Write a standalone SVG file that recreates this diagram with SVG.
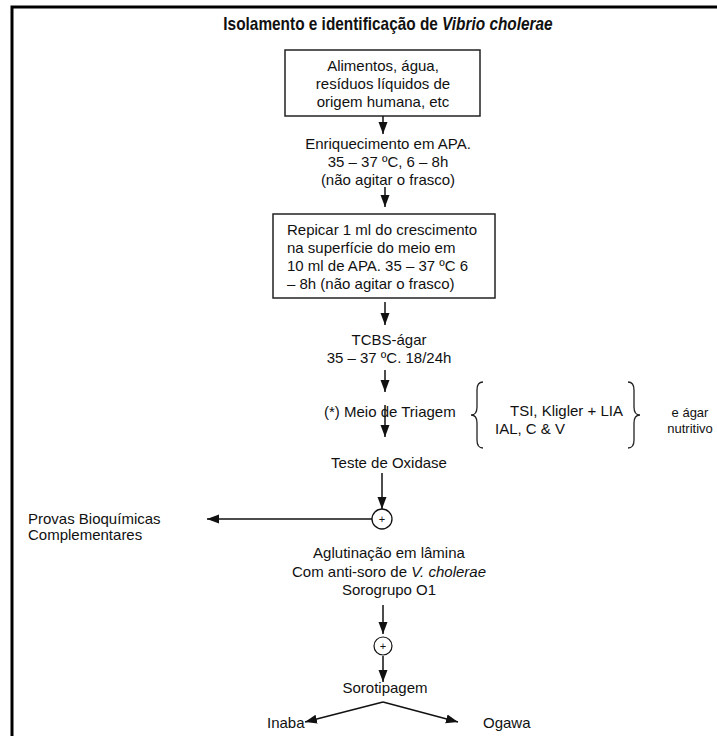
<svg xmlns="http://www.w3.org/2000/svg" width="717" height="736" viewBox="0 0 717 736">
<style>
text{font-family:"Liberation Sans",Arial,sans-serif;font-size:15px;fill:#111}
.c{text-anchor:middle}
.t{font-weight:bold;font-size:18px}
.box{fill:#fff;stroke:#222;stroke-width:1.5}
.ln{stroke:#111;stroke-width:1.5;fill:none}
.br{stroke:#222;stroke-width:1.3;fill:none}
.sm{font-size:13px}
.pl{font-size:11px}
</style>
<defs>
<marker id="ah" markerUnits="userSpaceOnUse" markerWidth="12" markerHeight="12" viewBox="0 0 12 12" refX="12" refY="6" orient="auto">
<path d="M0,1.5 L12,6 L0,10.5 Z" fill="#111"/>
</marker>
</defs>
<rect width="717" height="736" fill="#fff"/>
<path d="M12,736 L12,7 L717,7" fill="none" stroke="#000" stroke-width="3"/>
<g id="title" transform="translate(388,30) scale(0.855,1)"><text class="c t" x="0" y="0">Isolamento e identificação de <tspan font-style="italic">Vibrio cholerae</tspan></text></g>
<g id="n1"><rect class="box" x="285" y="50" width="195" height="66"/>
<text class="c" x="383" y="71">Alimentos, água,</text>
<text class="c" x="383" y="89">resíduos líquidos de</text>
<text class="c" x="383" y="107">origem humana, etc</text></g>
<g id="n2"><text class="c" x="388" y="149">Enriquecimento em APA.</text>
<text class="c" x="388" y="167">35 – 37 ºC, 6 – 8h</text>
<text class="c" x="388" y="185">(não agitar o frasco)</text></g>
<g id="n3"><rect class="box" x="273" y="214" width="222" height="84"/>
<text x="287" y="235">Repicar 1 ml do crescimento</text>
<text x="287" y="253">na superfície do meio  em</text>
<text x="287" y="271">10 ml de APA. 35 – 37 ºC 6</text>
<text x="287" y="289">– 8h (não agitar o frasco)</text></g>
<g id="n4"><text class="c" x="389" y="345">TCBS-ágar</text>
<text class="c" x="389" y="363">35 – 37 ºC. 18/24h</text></g>
<g id="n5"><text x="324" y="417">(*) Meio de Triagem</text></g>
<g id="n6"><path class="br" d="M483,382 Q477,382 477,390 L477,407 Q477,415 471,415 Q477,415 477,423 L477,440 Q477,448 483,448"/>
<text x="510" y="416">TSI, Kligler + LIA</text>
<text x="495" y="434">IAL, C &amp; V</text>
<path class="br" d="M628,382 Q634,382 634,390 L634,407 Q634,415 640,415 Q634,415 634,423 L634,440 Q634,448 628,448"/></g>
<g id="n7"><text class="c sm" x="690" y="417">e ágar</text>
<text class="c sm" x="690" y="433">nutritivo</text></g>
<g id="n8"><text class="c" x="389" y="468">Teste de Oxidase</text></g>
<g id="n9"><circle cx="382" cy="519" r="10" fill="#fff" stroke="#111" stroke-width="1.3"/><text class="c pl" x="382" y="523">+</text></g>
<g id="n10"><text x="28" y="524">Provas Bioquímicas</text>
<text x="28" y="540">Complementares</text></g>
<g id="n11"><text class="c" x="389" y="558">Aglutinação em lâmina</text>
<text class="c" x="389" y="577">Com anti-soro de <tspan font-style="italic">V. cholerae</tspan></text>
<text class="c" x="389" y="595">Sorogrupo O1</text></g>
<g id="n12"><circle cx="383" cy="646" r="9" fill="#fff" stroke="#111" stroke-width="1.2"/><text class="c pl" x="383" y="650">+</text></g>
<g id="n13"><text class="c" x="385" y="693">Sorotipagem</text></g>
<g id="n14"><text x="267" y="728">Inaba</text></g>
<g id="n15"><text x="483" y="728">Ogawa</text></g>
<g id="connectors">
<line class="ln" x1="383" y1="116" x2="383" y2="134" marker-end="url(#ah)"/>
<line class="ln" x1="385" y1="187" x2="385" y2="207" marker-end="url(#ah)"/>
<line class="ln" x1="385" y1="302" x2="385" y2="325" marker-end="url(#ah)"/>
<line class="ln" x1="385" y1="370" x2="385" y2="392" marker-end="url(#ah)"/>
<line class="ln" x1="385" y1="405" x2="385" y2="437" marker-end="url(#ah)"/>
<line class="ln" x1="382" y1="473" x2="382" y2="509" marker-end="url(#ah)"/>
<line class="ln" x1="372" y1="519" x2="207" y2="519" marker-end="url(#ah)"/>
<line class="ln" x1="383" y1="605" x2="383" y2="634" marker-end="url(#ah)"/>
<line class="ln" x1="383" y1="656" x2="383" y2="682" marker-end="url(#ah)"/>
<line class="ln" x1="383" y1="702" x2="305" y2="722" marker-end="url(#ah)"/>
<line class="ln" x1="383" y1="702" x2="458" y2="722" marker-end="url(#ah)"/>
</g>
</svg>
